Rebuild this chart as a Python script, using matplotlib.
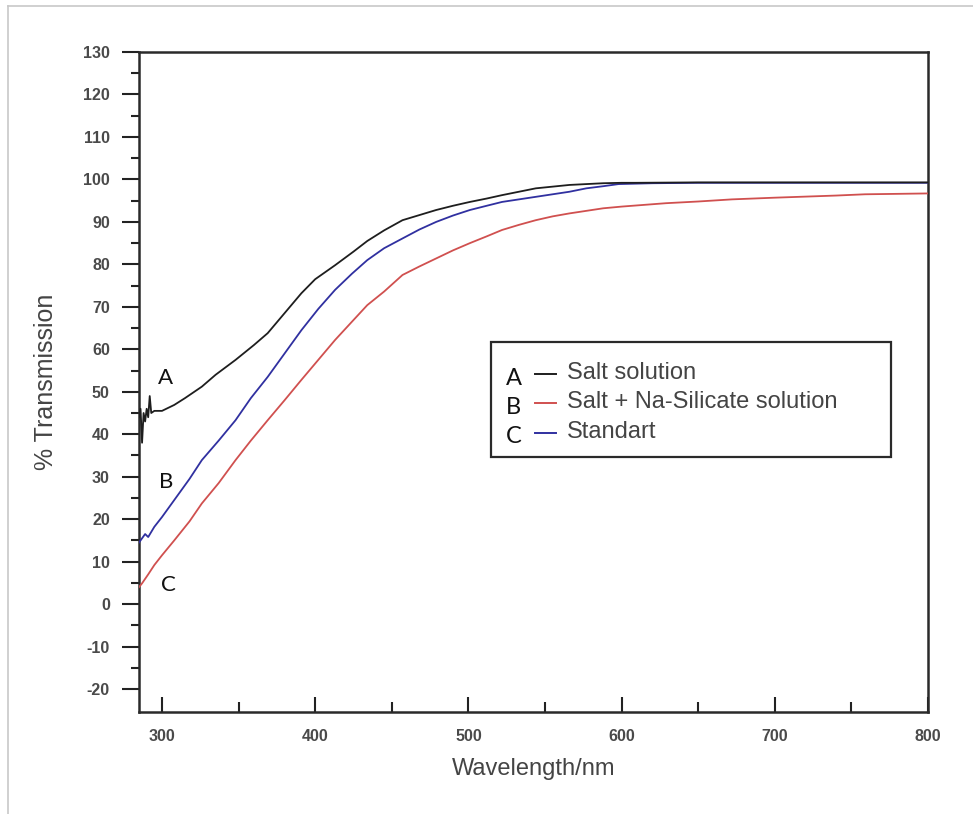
import matplotlib
matplotlib.use("Agg")
import matplotlib.pyplot as plt
from matplotlib.lines import Line2D
from matplotlib.patches import Rectangle

# ---- data ----
wl_A = [285, 286, 287, 288, 289, 290, 291, 292, 293, 295, 300, 308, 315, 326, 335, 348, 360, 369, 380,
        391, 400, 413, 425, 434, 445, 457, 468, 479, 490, 501, 512, 522, 533, 544, 555, 566, 577, 588,
        600, 609, 650, 700, 750, 800]
T_A = [44, 46, 38, 45, 43, 46, 44, 49, 45, 45.5, 45.5, 46.9, 48.5, 51.2, 54, 57.5, 61, 63.8, 68.5,
       73.2, 76.5, 79.8, 83.0, 85.5, 88, 90.4, 91.6, 92.8, 93.8, 94.7, 95.5, 96.3, 97.1, 97.9, 98.3, 98.7,
       98.9, 99.1, 99.2, 99.2, 99.3, 99.3, 99.3, 99.3]

wl_B = [285, 287, 291, 295, 300, 308, 318, 326, 337, 348, 358, 369, 380, 391, 402, 413, 424, 434,
        445, 457, 468, 479, 490, 501, 512, 522, 533, 544, 555, 566, 577, 588, 600, 629, 650, 672, 700,
        716, 740, 759, 780, 800]
T_B = [4.0, 4.9, 7.0, 9.2, 11.5, 15, 19.5, 23.7, 28.5, 33.9, 38.5, 43.3, 48, 52.8, 57.5, 62.2, 66.5,
       70.4, 73.6, 77.5, 79.5, 81.4, 83.3, 85, 86.6, 88.1, 89.3, 90.4, 91.3, 92, 92.6, 93.2, 93.6, 94.4,
       94.8, 95.3, 95.7, 95.9, 96.2, 96.5, 96.6, 96.7]

wl_C = [285, 287, 289, 291, 295, 300, 308, 318, 326, 337, 348, 358, 369, 380, 391, 402, 413, 424, 434,
        445, 457, 468, 479, 490, 501, 512, 522, 533, 544, 555, 566, 577, 588, 598, 620, 650, 700, 750, 800]
T_C = [14.5, 15.5, 16.5, 15.8, 18.2, 20.5, 24.5, 29.5, 33.9, 38.5, 43.3, 48.5, 53.5, 59, 64.5, 69.5,
       74, 77.8, 81, 83.8, 86.1, 88.2, 90, 91.5, 92.8, 93.8, 94.7, 95.3, 95.9, 96.5, 97.1, 97.9, 98.4,
       98.9, 99.1, 99.2, 99.2, 99.2, 99.2]

series_labels = ["Salt solution", "Salt + Na-Silicate solution", "Standart"]
legend_letters = ["A", "B", "C"]
curve_letters = ["A", "B", "C"]
curve_letter_pos = [(302.5, 53.2), (302.5, 28.7), (304.5, 4.5)]

x_ticks = [300, 400, 500, 600, 700, 800]
y_ticks = list(range(-20, 131, 10))

# ---- styling ----
col_A = "#1e1e1e"
col_B = "#d0504f"
col_C = "#3030a0"
tick_col = "#4a4a4a"

fig = plt.figure(figsize=(9.73, 8.14), dpi=100)
ax = fig.add_axes([139 / 973, 1 - 712 / 814, (928 - 139) / 973, (712 - 52) / 814])

ax.plot(wl_C, T_C, color=col_C, lw=1.3, zorder=3)
ax.plot(wl_B, T_B, color=col_B, lw=1.3, zorder=3)
ax.plot(wl_A, T_A, color=col_A, lw=1.3, zorder=4)

ax.set_xlim(285, 800)
ax.set_ylim(-25.4, 130)

ax.set_xticks(x_ticks)
ax.set_xticks([350, 450, 550, 650, 750], minor=True)
ax.set_yticks(y_ticks)
ax.set_yticks([v + 5 for v in y_ticks[:-1]], minor=True)

tick_font = dict(family="Liberation Sans", size=11.5, weight="bold", color=tick_col)
ax.set_xticklabels([str(v) for v in x_ticks], **tick_font)
ax.set_yticklabels([str(v) for v in y_ticks], **tick_font)

ax.tick_params(axis="x", which="major", direction="in", length=11, width=1.5, pad=12, color="#222")
ax.tick_params(axis="x", which="minor", direction="in", length=7, width=1.5, color="#222")
ax.tick_params(axis="y", which="major", direction="out", length=12, width=1.5, pad=9, color="#222")
ax.tick_params(axis="y", which="minor", direction="out", length=6, width=1.5, color="#222")

for s in ax.spines.values():
    s.set_linewidth(1.8)
    s.set_color("#2a2a2a")

ax.set_xlabel("Wavelength/nm", family="Liberation Sans", size=17, color="#444", labelpad=10)
ax.set_ylabel("% Transmission", family="Liberation Sans", size=18, color="#444", labelpad=18)

# curve letters
for lab, (xv, yv) in zip(curve_letters, curve_letter_pos):
    ax.text(xv, yv, lab, family="Lato", size=16, color="#111", ha="center", va="center", zorder=5)

# legend box (manual)
ax.add_patch(Rectangle((0.446, 0.386), 0.507, 0.175, transform=ax.transAxes, fill=False,
                       lw=1.6, edgecolor="#2a2a2a", zorder=6))
row_y = [0.512, 0.468, 0.423]
for letter, lab, col, yy in zip(legend_letters, series_labels, [col_A, col_B, col_C], row_y):
    ax.text(0.475, yy - 0.006, letter, transform=ax.transAxes, family="Lato", size=17, color="#111",
            ha="center", va="center", zorder=7)
    ax.add_line(Line2D([0.502, 0.528], [yy, yy], transform=ax.transAxes, color=col, lw=1.4, zorder=7))
    ax.text(0.542, yy + 0.002, lab, transform=ax.transAxes, family="Liberation Sans", size=17,
            color="#444", ha="left", va="center", zorder=7)

# thin outer frame (top and left edges)
fig.add_artist(Line2D([8 / 973, 1.0], [1 - 6 / 814, 1 - 6 / 814], transform=fig.transFigure,
                      color="#c8c8c8", lw=1.2))
fig.add_artist(Line2D([8 / 973, 8 / 973], [0.0, 1 - 6 / 814], transform=fig.transFigure,
                      color="#c8c8c8", lw=1.2))

fig.savefig("out.png", dpi=100)
